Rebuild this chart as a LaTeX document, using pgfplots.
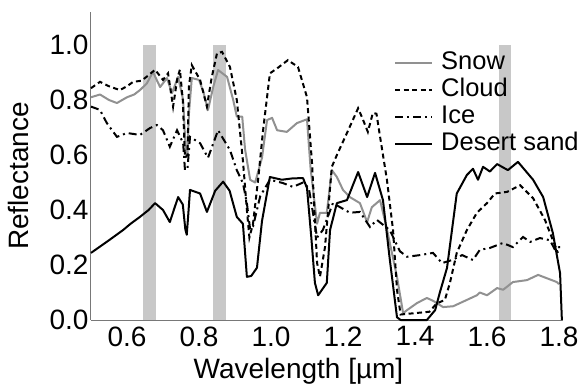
\documentclass[border=0pt]{standalone}
\usepackage{pgfplots}
\pgfplotsset{compat=1.18}
\usepackage{fontspec}
\setmainfont{Liberation Sans}
\definecolor{bandgray}{RGB}{200,200,200}
\definecolor{snowgray}{RGB}{145,145,145}
\definecolor{axgray}{RGB}{120,120,120}
\begin{document}
\begin{tikzpicture}
\useasboundingbox (-91pt,-66pt) rectangle (488pt,320pt);
\begin{axis}[
  scale only axis, width=471.6pt, height=308pt,
  xmin=0.5, xmax=1.81, ymin=0, ymax=1.12,
  axis x line*=bottom, axis y line*=left,
  axis line style={axgray, line width=1pt, -},
  major tick length=0pt,
  xtick={0.6,0.8,1.0,1.2,1.4,1.6,1.8},
  ytick={0,0.2,0.4,0.6,0.8,1.0},
  xticklabels={0.6,0.8,1.0,1.2,1.4,1.6,1.8},
  yticklabels={0.0,0.2,0.4,0.6,0.8,1.0},
  tick label style={font=\fontsize{28}{30}\selectfont, text=black},
  xticklabel style={yshift=-3pt},
  yticklabel style={xshift=1pt},
  xlabel={Wavelength [µm]}, ylabel={Reflectance},
  label style={font=\fontsize{28}{31}\selectfont},
  xlabel style={at={(axis description cs:0.44,-0.166)}, anchor=center},
  ylabel style={at={(axis description cs:-0.153,0.468)}, anchor=center, rotate=0},
  legend style={draw=none, fill=none, inner sep=0pt, at={(rel axis cs:0.6425,0.878)}, anchor=north west,
    font=\fontsize{25.5}{27}\selectfont, column sep=6pt,
    nodes={inner sep=2pt, text height=18pt, text depth=5pt, anchor=west}},
  legend cell align=left,
  legend image code/.code={\draw[#1] (0pt,0pt) -- (37pt,0pt);},
  clip=false,
]
% bands
\addplot[draw=none, fill=bandgray, forget plot] coordinates {(0.645,0) (0.645,1) (0.68,1) (0.68,0)} -- cycle;
\addplot[draw=none, fill=bandgray, forget plot] coordinates {(0.84,0) (0.84,1) (0.875,1) (0.875,0)} -- cycle;
\addplot[draw=none, fill=bandgray, forget plot] coordinates {(1.633,0) (1.633,1) (1.668,1) (1.668,0)} -- cycle;
% Snow
\addplot[snowgray, line width=2pt, line join=round] coordinates {
(0.50,0.81) (0.525,0.82) (0.55,0.80) (0.572,0.789) (0.60,0.81) (0.62,0.82) (0.636,0.836) (0.655,0.86) (0.672,0.902) (0.692,0.847) (0.711,0.88) (0.725,0.825) (0.742,0.884) (0.756,0.80) (0.763,0.62) (0.768,0.60) (0.772,0.75) (0.78,0.88) (0.80,0.873) (0.812,0.83) (0.825,0.764) (0.84,0.85) (0.853,0.909) (0.878,0.884) (0.895,0.80) (0.905,0.74) (0.92,0.74) (0.928,0.62) (0.942,0.51) (0.956,0.50) (0.975,0.59) (0.989,0.727) (1.003,0.735) (1.017,0.69) (1.044,0.684) (1.072,0.716) (1.10,0.73) (1.11,0.55) (1.128,0.35) (1.136,0.39) (1.155,0.39) (1.169,0.545) (1.183,0.52) (1.20,0.473) (1.219,0.447) (1.247,0.425) (1.267,0.356) (1.28,0.41) (1.303,0.436) (1.322,0.33) (1.35,0.157) (1.367,0.025) (1.378,0.036) (1.406,0.062) (1.433,0.08) (1.45,0.07) (1.478,0.047) (1.506,0.05) (1.544,0.073) (1.572,0.09) (1.58,0.10) (1.60,0.09) (1.628,0.116) (1.645,0.11) (1.672,0.138) (1.711,0.145) (1.742,0.164) (1.76,0.155) (1.794,0.138) (1.80,0.13)
};
\addlegendentry{Snow}
% Cloud
\addplot[black, line width=2pt, dash pattern=on 5pt off 3.5pt] coordinates {
(0.50,0.843) (0.525,0.866) (0.55,0.85) (0.58,0.836) (0.60,0.85) (0.617,0.866) (0.64,0.87) (0.655,0.885) (0.678,0.91) (0.70,0.873) (0.714,0.897) (0.728,0.776) (0.74,0.88) (0.747,0.91) (0.755,0.80) (0.761,0.59) (0.768,0.60) (0.772,0.85) (0.78,0.927) (0.803,0.873) (0.822,0.776) (0.835,0.88) (0.85,0.97) (0.864,0.975) (0.886,0.92) (0.905,0.80) (0.922,0.58) (0.933,0.40) (0.94,0.30) (0.95,0.35) (0.965,0.52) (0.978,0.69) (0.997,0.897) (1.017,0.915) (1.047,0.945) (1.075,0.92) (1.10,0.81) (1.114,0.57) (1.128,0.207) (1.136,0.157) (1.15,0.265) (1.169,0.557) (1.183,0.60) (1.211,0.68) (1.242,0.77) (1.255,0.73) (1.269,0.684) (1.283,0.753) (1.293,0.75) (1.303,0.666) (1.322,0.51) (1.339,0.327) (1.35,0.11) (1.36,0.02) (1.44,0.03) (1.46,0.06) (1.483,0.073) (1.497,0.135) (1.516,0.244) (1.544,0.327) (1.572,0.39) (1.60,0.425) (1.622,0.46) (1.656,0.466) (1.692,0.49) (1.728,0.443) (1.761,0.364) (1.783,0.29) (1.797,0.244)
};
\addlegendentry{Cloud}
% Ice
\addplot[black, line width=2pt, dash pattern=on 8pt off 4pt on 2pt off 4pt] coordinates {
(0.50,0.776) (0.525,0.764) (0.544,0.716) (0.572,0.666) (0.60,0.68) (0.636,0.673) (0.664,0.698) (0.683,0.709) (0.70,0.69) (0.719,0.63) (0.739,0.69) (0.756,0.643) (0.761,0.545) (0.768,0.55) (0.775,0.666) (0.803,0.643) (0.825,0.59) (0.853,0.69) (0.886,0.618) (0.905,0.545) (0.922,0.498) (0.933,0.425) (0.942,0.33) (0.95,0.34) (0.97,0.45) (0.997,0.51) (1.033,0.498) (1.061,0.484) (1.089,0.50) (1.105,0.48) (1.128,0.30) (1.144,0.327) (1.172,0.425) (1.219,0.39) (1.247,0.393) (1.275,0.338) (1.294,0.364) (1.33,0.327) (1.358,0.25) (1.378,0.23) (1.414,0.236) (1.45,0.244) (1.475,0.207) (1.503,0.218) (1.531,0.236) (1.561,0.218) (1.58,0.255) (1.608,0.262) (1.644,0.28) (1.672,0.265) (1.70,0.302) (1.72,0.284) (1.747,0.298) (1.775,0.29) (1.789,0.255) (1.80,0.265) (1.808,0.265)
};
\addlegendentry{Ice}
% Desert sand
\addplot[black, line width=2pt, line join=round] coordinates {
(0.50,0.244) (0.55,0.29) (0.589,0.327) (0.61,0.35) (0.636,0.375) (0.66,0.40) (0.678,0.425) (0.70,0.40) (0.719,0.356) (0.73,0.40) (0.742,0.447) (0.755,0.42) (0.762,0.33) (0.766,0.31) (0.770,0.38) (0.775,0.473) (0.803,0.46) (0.822,0.393) (0.845,0.47) (0.867,0.503) (0.885,0.47) (0.905,0.375) (0.922,0.35) (0.933,0.157) (0.945,0.16) (0.961,0.19) (0.975,0.36) (0.997,0.52) (1.03,0.51) (1.06,0.515) (1.089,0.516) (1.10,0.48) (1.112,0.30) (1.122,0.135) (1.131,0.09) (1.155,0.135) (1.164,0.327) (1.183,0.425) (1.211,0.436) (1.242,0.538) (1.267,0.447) (1.289,0.535) (1.311,0.436) (1.33,0.22) (1.35,0.01) (1.36,0) (1.433,0) (1.456,0.036) (1.469,0.1) (1.489,0.19) (1.50,0.30) (1.516,0.46) (1.544,0.527) (1.561,0.55) (1.575,0.51) (1.589,0.557) (1.608,0.54) (1.628,0.567) (1.658,0.545) (1.686,0.575) (1.728,0.51) (1.756,0.447) (1.783,0.316) (1.803,0.17) (1.808,0.0)
};
\addlegendentry{Desert sand}
\end{axis}
\end{tikzpicture}
\end{document}
